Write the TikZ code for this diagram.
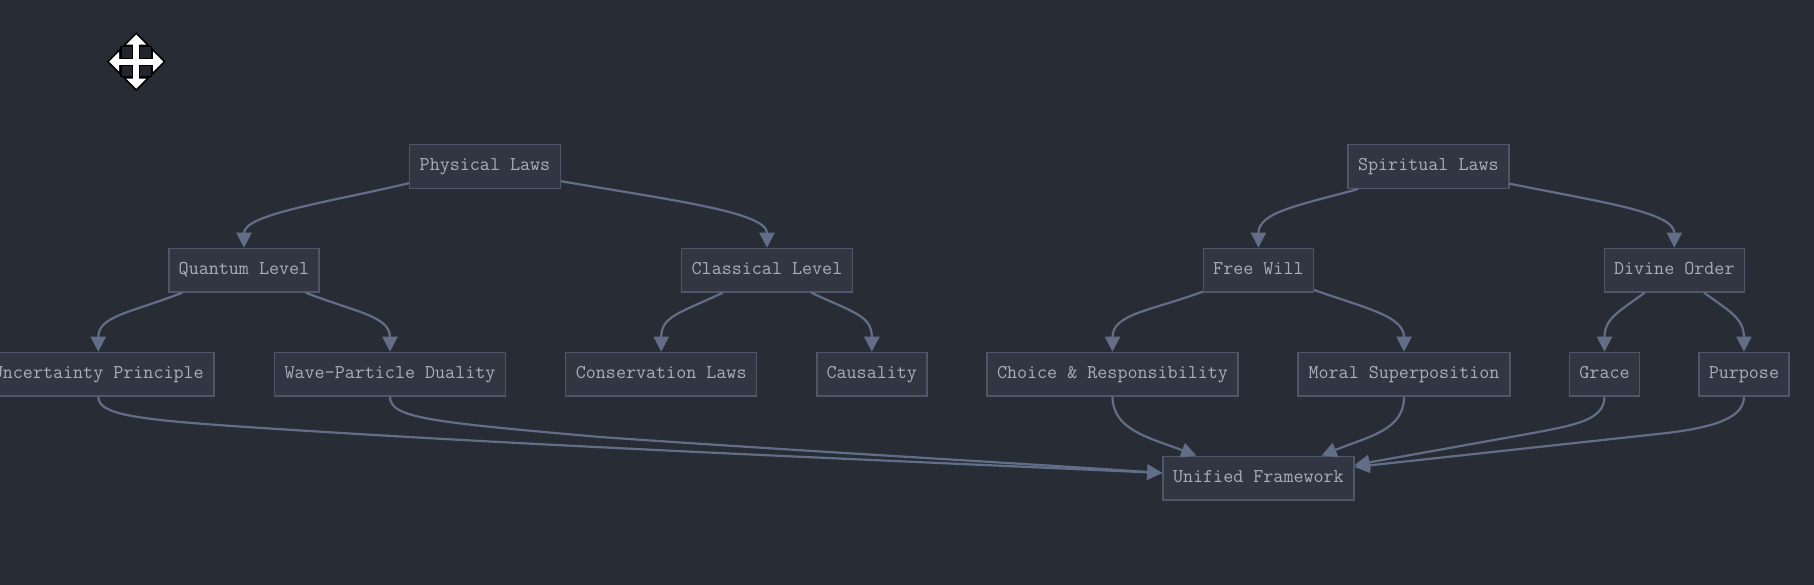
\documentclass[tikz,border=0pt]{standalone}
\usetikzlibrary{arrows.meta,calc}
\definecolor{bgcol}{HTML}{282C34}
\definecolor{boxfill}{HTML}{323643}
\definecolor{boxline}{HTML}{4F5669}
\definecolor{edgecol}{HTML}{626E88}
\definecolor{textcol}{HTML}{A9AEBA}
\tikzset{
  nodebox/.style={draw=boxline,fill=boxfill,line width=1.4pt,rectangle,minimum height=43.6pt,inner sep=0pt,
    text=textcol,text height=11pt,text depth=2pt,align=center,font=\fontsize{19.5}{22}\selectfont\ttfamily},
  edge/.style={draw=edgecol,line width=2.2pt,-{Triangle[length=15pt,width=15pt]}}
}
\begin{document}
\begin{tikzpicture}[x=1pt,y=-1pt]
\useasboundingbox (0,0) rectangle (1814,585);
\fill[bgcol] (0,0) rectangle (1814,585);
\node[nodebox,minimum width=151pt] (pl) at (485,166.5) {Physical Laws};
\node[nodebox,minimum width=161pt] (sl) at (1428.4,166.5) {Spiritual Laws};
\node[nodebox,minimum width=150pt] (ql) at (244,270.2) {Quantum Level};
\node[nodebox,minimum width=171pt] (cl) at (767,270.2) {Classical Level};
\node[nodebox,minimum width=110pt] (fw) at (1258.4,270.2) {Free Will};
\node[nodebox,minimum width=140pt] (dv) at (1674.3,270.2) {Divine Order};
\node[nodebox,minimum width=231pt] (up) at (98.3,374.2) {Uncertainty Principle};
\node[nodebox,minimum width=231pt] (wp) at (390,374.2) {Wave-Particle Duality};
\node[nodebox,minimum width=191pt] (cv) at (661.2,374.2) {Conservation Laws};
\node[nodebox,minimum width=110pt] (ca) at (871.8,374.2) {Causality};
\node[nodebox,minimum width=251pt] (cr) at (1112.5,374.2) {Choice \& Responsibility};
\node[nodebox,minimum width=212pt] (ms) at (1404,374.2) {Moral Superposition};
\node[nodebox,minimum width=70pt] (gr) at (1604.5,374.2) {Grace};
\node[nodebox,minimum width=90pt] (pu) at (1743.9,374.2) {Purpose};
\node[nodebox,minimum width=191pt] (uf) at (1258.4,478) {Unified Framework};
% physical tree
\draw[edge] ([yshift=5.8pt]pl.south west) .. controls (330,202) and (244,214) .. (ql.north);
\draw[edge] ([yshift=7.8pt]pl.south east) .. controls (670,200) and (767,212) .. (cl.north);
\draw[edge] ([xshift=14pt]ql.south west) .. controls (130,313) and (98.3,316) .. (up.north);
\draw[edge] ([xshift=-14pt]ql.south east) .. controls (355,312) and (390,316) .. (wp.north);
\draw[edge] ([xshift=42pt]cl.south west) .. controls (680,313) and (661.2,316) .. (cv.north);
\draw[edge] ([xshift=-42pt]cl.south east) .. controls (855,313) and (871.8,316) .. (ca.north);
% spiritual tree
\draw[edge] ([xshift=11pt]sl.south west) .. controls (1300,205) and (1258.4,212) .. (fw.north);
\draw[edge] ([yshift=5.3pt]sl.south east) .. controls (1600,202) and (1674.3,212) .. (dv.north);
\draw[edge] ([yshift=1pt]fw.south west) .. controls (1150,311) and (1112.5,314) .. (cr.north);
\draw[edge] ([yshift=2.7pt]fw.south east) .. controls (1365,308) and (1404,316) .. (ms.north);
\draw[edge] ([xshift=41pt]dv.south west) .. controls (1620,311) and (1604.5,318) .. (gr.north);
\draw[edge] ([xshift=-41pt]dv.south east) .. controls (1729,311) and (1743.9,318) .. (pu.north);
% to unified
\draw[edge] (up.south) .. controls (98.3,418) and (150,421) .. (325,432) .. controls (600,449) and (900,461) .. ([yshift=5pt]uf.west);
\draw[edge] (wp.south) .. controls (390,418) and (430,422) .. (600,437) .. controls (800,451) and (1000,462) .. ([yshift=5pt]uf.west);
\draw[edge] (cr.south) .. controls (1112.5,430) and (1150,438) .. ([xshift=34pt]uf.north west);
\draw[edge] (ms.south) .. controls (1404,430) and (1370,436) .. ([xshift=-33pt]uf.north east);
\draw[edge] (gr.south) .. controls (1604.5,420) and (1575,425) .. (1533,433) -- ([yshift=13pt]uf.east);
\draw[edge] (pu.south) .. controls (1743.9,416) and (1720,426.5) .. (1667,433) -- ([yshift=11pt]uf.east);
% move cursor
\begin{scope}[shift={(136.2,61.7)}]
  \fill[black] (0,-29.5) -- (29.5,0) -- (0,29.5) -- (-29.5,0) -- cycle;
  \foreach \sx/\sy in {-1/-1,1/-1,-1/1,1/1}{
    \fill[black] (\sx*2.5,\sy*2.5) rectangle (\sx*15.8,\sy*15.8);
    \fill[bgcol!85!black] (\sx*4,\sy*4) rectangle (\sx*14.3,\sy*14.3);
  }
  \fill[white] (-3,-19) rectangle (3,19);
  \fill[white] (-19,-3) rectangle (19,3);
  \fill[white] (0,-27) -- (10,-17) -- (-10,-17) -- cycle;
  \fill[white] (0,27) -- (10,17) -- (-10,17) -- cycle;
  \fill[white] (-27,0) -- (-17,10) -- (-17,-10) -- cycle;
  \fill[white] (27,0) -- (17,10) -- (17,-10) -- cycle;
\end{scope}
\end{tikzpicture}
\end{document}
